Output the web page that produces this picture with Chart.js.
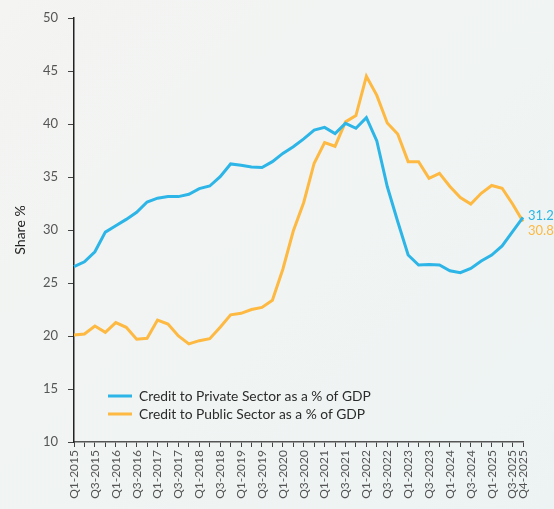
<!DOCTYPE html>
<html>
<head>
<meta charset="utf-8">
<script src="https://cdn.jsdelivr.net/npm/chart.js@4.4.1/dist/chart.umd.min.js"></script>
<style>
  html, body { margin: 0; padding: 0; }
  body { width: 554px; height: 509px; background: linear-gradient(135deg, #f4f4f2 0%, #f0f4f3 55%, #edf3f3 100%); overflow: hidden; }
  #wrap { position: relative; width: 554px; height: 509px; }
</style>
</head>
<body>
<div id="wrap"><canvas id="c" width="554" height="509"></canvas></div>
<script>
const categories = [];
for (let y = 2015; y <= 2025; y++) for (let q = 1; q <= 4; q++) categories.push('Q' + q + '-' + y);

const seriesNames = ['Credit to Private Sector as a % of GDP', 'Credit to Public Sector as a % of GDP'];

const privateCredit = [26.55, 27.0, 27.95, 29.8, 30.4, 31.0, 31.67, 32.64, 33.0, 33.15, 33.15, 33.37,
  33.9, 34.15, 35.03, 36.23, 36.1, 35.94, 35.9, 36.45, 37.23, 37.86, 38.6, 39.43,
  39.68, 39.1, 40.06, 39.6, 40.6, 38.4, 34.1, 30.8, 27.64, 26.7, 26.75, 26.7,
  26.16, 25.97, 26.38, 27.07, 27.64, 28.5, 29.84, 31.2];

const publicCredit = [20.09, 20.19, 20.94, 20.35, 21.26, 20.82, 19.7, 19.78, 21.51, 21.13, 20.0, 19.25,
  19.56, 19.75, 20.82, 22.0, 22.14, 22.5, 22.7, 23.37, 26.3, 29.9, 32.6, 36.3,
  38.25, 37.9, 40.2, 40.8, 44.5, 42.7, 40.1, 39.05, 36.45, 36.45, 34.87, 35.35,
  34.1, 33.07, 32.45, 33.46, 34.2, 33.94, 32.45, 30.8];

const yTicks = [10, 15, 20, 25, 30, 35, 40, 45, 50];
const yTitle = 'Share %';

const blue = '#2cb5e6';
const orange = '#fdb941';
const FONT = 'Lato, "Open Sans", sans-serif';

const overlay = {
  id: 'overlay',
  afterDatasetsDraw(chart) {
    const ctx = chart.ctx;
    ctx.save();
    const last = categories.length - 1;
    const ys = chart.scales.y;
    const xs = chart.scales.x;
    const x0 = xs.getPixelForValue(last) + 5;
    ctx.font = '13px ' + FONT;
    ctx.textAlign = 'left';
    ctx.textBaseline = 'middle';
    ctx.fillStyle = blue;
    ctx.fillText(privateCredit[last].toFixed(1), x0, ys.getPixelForValue(privateCredit[last]) - 1);
    ctx.fillStyle = orange;
    ctx.fillText(publicCredit[last].toFixed(1), x0, ys.getPixelForValue(privateCredit[last]) + 14);
    const area = chart.chartArea;
    const lx = area.left + 34, ly = area.bottom - 46;
    const cols = [blue, orange];
    ctx.font = '13.8px ' + FONT;
    seriesNames.forEach((n, i) => {
      const yy = ly + i * 18;
      ctx.strokeStyle = cols[i];
      ctx.lineWidth = 3;
      ctx.beginPath();
      ctx.moveTo(lx, yy);
      ctx.lineTo(lx + 24, yy);
      ctx.stroke();
      ctx.fillStyle = '#2b2b2b';
      ctx.fillText(n, lx + 31, yy + 1);
    });
    ctx.restore();
  }
};

new Chart(document.getElementById('c'), {
  type: 'line',
  data: {
    labels: categories,
    datasets: [
      { label: seriesNames[0], data: privateCredit, borderColor: blue, backgroundColor: blue, borderWidth: 3, pointRadius: 0, tension: 0 },
      { label: seriesNames[1], data: publicCredit, borderColor: orange, backgroundColor: orange, borderWidth: 3, pointRadius: 0, tension: 0 }
    ]
  },
  options: {
    responsive: false,
    animation: false,
    layout: { padding: { top: 18, right: 31, left: 0, bottom: 0 } },
    plugins: { legend: { display: false }, tooltip: { enabled: false } },
    scales: {
      x: {
        type: 'category',
        offset: false,
        grid: { display: true, drawOnChartArea: false, drawTicks: true, tickLength: 5, tickColor: '#444', lineWidth: 1 },
        border: { display: true, color: '#555', width: 1.5 },
        ticks: {
          autoSkip: false, maxRotation: 90, minRotation: 90, padding: 3,
          color: '#555', font: { family: FONT, size: 12 },
          callback: (v, i) => (i % 2 === 0 || i === categories.length - 1) ? categories[i] : ''
        },
        afterFit: (s) => { s.height = 67; }
      },
      y: {
        min: 10, max: 50,
        afterBuildTicks: (s) => { s.ticks = yTicks.map(v => ({ value: v })); },
        grid: { display: true, drawOnChartArea: false, drawTicks: true, tickLength: 6, tickColor: '#444', lineWidth: 1 },
        border: { display: true, color: '#222', width: 1.5 },
        ticks: { color: '#555', font: { family: FONT, size: 13 }, padding: 10 },
        title: { display: true, text: yTitle, color: '#222', font: { family: FONT, size: 14 }, padding: { top: 12, bottom: 0 } },
        afterFit: (s) => { s.width = 74; }
      }
    }
  },
  plugins: [overlay]
});
</script>
</body>
</html>
